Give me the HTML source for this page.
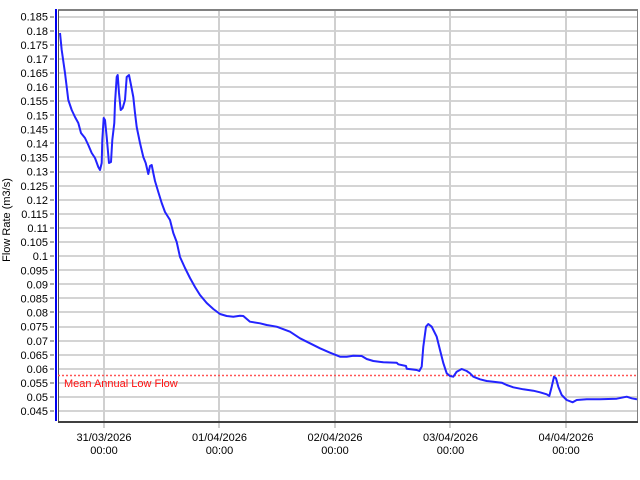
<!DOCTYPE html>
<html><head><meta charset="utf-8"><style>
html,body{margin:0;padding:0;background:#fff;}
#wrap{position:relative;width:640px;height:480px;overflow:hidden;background:#fff;}
svg{position:absolute;left:0;top:0;display:block;font-family:"Liberation Sans",Arial,sans-serif;}
</style></head><body>
<div id="wrap">
<svg width="640" height="480" viewBox="0 0 640 480" xmlns="http://www.w3.org/2000/svg" shape-rendering="crispEdges">
<g fill="#d4d4d4">
<rect x="59" y="16" width="578" height="2"/>
<rect x="59" y="30" width="578" height="2"/>
<rect x="59" y="44" width="578" height="2"/>
<rect x="59" y="58" width="578" height="2"/>
<rect x="59" y="72" width="578" height="2"/>
<rect x="59" y="86" width="578" height="2"/>
<rect x="59" y="100" width="578" height="2"/>
<rect x="59" y="114" width="578" height="2"/>
<rect x="59" y="128" width="578" height="2"/>
<rect x="59" y="142" width="578" height="2"/>
<rect x="59" y="156" width="578" height="2"/>
<rect x="59" y="171" width="578" height="2"/>
<rect x="59" y="185" width="578" height="2"/>
<rect x="59" y="199" width="578" height="2"/>
<rect x="59" y="213" width="578" height="2"/>
<rect x="59" y="227" width="578" height="2"/>
<rect x="59" y="241" width="578" height="2"/>
<rect x="59" y="255" width="578" height="2"/>
<rect x="59" y="269" width="578" height="2"/>
<rect x="59" y="283" width="578" height="2"/>
<rect x="59" y="297" width="578" height="2"/>
<rect x="59" y="311" width="578" height="2"/>
<rect x="59" y="326" width="578" height="2"/>
<rect x="59" y="340" width="578" height="2"/>
<rect x="59" y="354" width="578" height="2"/>
<rect x="59" y="368" width="578" height="2"/>
<rect x="59" y="382" width="578" height="2"/>
<rect x="59" y="396" width="578" height="2"/>
<rect x="59" y="410" width="578" height="2"/>
</g>
<g fill="#a8a8a8">
<rect x="50" y="16" width="4" height="2"/>
<rect x="50" y="30" width="4" height="2"/>
<rect x="50" y="44" width="4" height="2"/>
<rect x="50" y="58" width="4" height="2"/>
<rect x="50" y="72" width="4" height="2"/>
<rect x="50" y="86" width="4" height="2"/>
<rect x="50" y="100" width="4" height="2"/>
<rect x="50" y="114" width="4" height="2"/>
<rect x="50" y="128" width="4" height="2"/>
<rect x="50" y="142" width="4" height="2"/>
<rect x="50" y="156" width="4" height="2"/>
<rect x="50" y="171" width="4" height="2"/>
<rect x="50" y="185" width="4" height="2"/>
<rect x="50" y="199" width="4" height="2"/>
<rect x="50" y="213" width="4" height="2"/>
<rect x="50" y="227" width="4" height="2"/>
<rect x="50" y="241" width="4" height="2"/>
<rect x="50" y="255" width="4" height="2"/>
<rect x="50" y="269" width="4" height="2"/>
<rect x="50" y="283" width="4" height="2"/>
<rect x="50" y="297" width="4" height="2"/>
<rect x="50" y="311" width="4" height="2"/>
<rect x="50" y="326" width="4" height="2"/>
<rect x="50" y="340" width="4" height="2"/>
<rect x="50" y="354" width="4" height="2"/>
<rect x="50" y="368" width="4" height="2"/>
<rect x="50" y="382" width="4" height="2"/>
<rect x="50" y="396" width="4" height="2"/>
<rect x="50" y="410" width="4" height="2"/>
</g>
<g fill="#d0d0d0">
<rect x="103" y="10" width="2" height="418"/>
<rect x="218" y="10" width="2" height="418"/>
<rect x="334" y="10" width="2" height="418"/>
<rect x="449" y="10" width="2" height="418"/>
<rect x="565" y="10" width="2" height="418"/>
</g>
<rect x="58" y="9" width="580" height="2" fill="#808080"/>
<rect x="637" y="10" width="1" height="413" fill="#808080"/>
<rect x="58" y="10" width="1" height="413" fill="#505050"/>
<rect x="58" y="421" width="580" height="2" fill="#404040"/>
<rect x="55" y="9" width="2" height="412" fill="#0000ee"/>
<line x1="58" y1="375.5" x2="637" y2="375.5" stroke="#ff5555" stroke-width="1.5" stroke-dasharray="2,2" shape-rendering="auto"/>
<text x="64" y="387" font-size="11" fill="#ff1010">Mean Annual Low Flow</text>
<polyline fill="none" stroke="#2323ff" stroke-width="2" stroke-linejoin="round" shape-rendering="auto" points="60,33 61.7,50 65,73 68.3,100 71.7,110 75,117 78.3,123 81,133 85,138 88.3,145 91.7,153 95,158 98.3,167 100,170 101.7,163 102.3,140 103.7,118 105,120 106.7,137 109,163 111,162 112.3,140 114.3,123 115,103 116.7,77 117.7,75 119,93 120.7,110 122.7,108 125,100 126.7,77 129,75 131,85 133.3,97 135,113 136.7,127 140,143 143.3,157 145.7,163 148.3,174 150,166 151.7,165 153.3,173 155,181 158.3,192 161.7,203 165,212 170,220 173.3,233 176.7,242 180,257 185,268 190,278 195,287 200,295 206.7,303 213.3,309 220,314 226.7,316 233.3,316.7 240,315.7 243.3,316 250,321.7 260,323.3 266.7,325 276.7,326.7 290,331.7 300,338.3 310,343.3 320,348.3 330,352.7 340,356.7 346.7,356.7 353.3,355.7 361.7,356 366.7,359 373.3,361 383.3,362.3 396.7,362.7 398.3,364.3 406,366 406.7,368.7 416.7,370 419.3,371 421.7,366.7 423.3,346.7 426,326.7 428.3,324 431.7,326.7 436.7,336.7 440,350 443.3,363 446.7,373.3 450,376 453.3,376.7 456.7,371.7 461.7,369 466.7,371 470,373.3 473.3,376.7 480,379.3 486.7,381 493.3,381.7 501.7,382.7 506.7,385 513.3,387.3 523.3,389.3 533.3,390.7 540,392.3 546.7,394.3 549.3,396 551.7,386.7 554,376.7 556,378.3 558.3,386.7 561.7,395 566.7,400 572.7,402.3 576.7,400 586.7,399.3 600,399.3 616.7,398.7 626.7,396.7 631.7,398.3 637,399.3"/>
<text transform="translate(10,220) rotate(-90)" font-size="11" text-anchor="middle" fill="#000">Flow Rate (m3/s)</text>
<g font-size="11" fill="#000" text-anchor="middle">
<text x="104" y="441">31/03/2026</text><text x="104" y="454">00:00</text>
<text x="219.5" y="441">01/04/2026</text><text x="219.5" y="454">00:00</text>
<text x="335" y="441">02/04/2026</text><text x="335" y="454">00:00</text>
<text x="450.5" y="441">03/04/2026</text><text x="450.5" y="454">00:00</text>
<text x="566" y="441">04/04/2026</text><text x="566" y="454">00:00</text>
</g>
<g font-size="11" fill="#000" text-anchor="end">
<text x="48" y="20.7">0.185</text>
<text x="48" y="34.8">0.18</text>
<text x="48" y="48.9">0.175</text>
<text x="48" y="63">0.17</text>
<text x="48" y="77.1">0.165</text>
<text x="48" y="91.1">0.16</text>
<text x="48" y="105.2">0.155</text>
<text x="48" y="119.3">0.15</text>
<text x="48" y="133.4">0.145</text>
<text x="48" y="147.5">0.14</text>
<text x="48" y="161.6">0.135</text>
<text x="48" y="175.7">0.13</text>
<text x="48" y="189.8">0.125</text>
<text x="48" y="203.9">0.12</text>
<text x="48" y="218">0.115</text>
<text x="48" y="232">0.11</text>
<text x="48" y="246.1">0.105</text>
<text x="48" y="260.2">0.1</text>
<text x="48" y="274.3">0.095</text>
<text x="48" y="288.4">0.09</text>
<text x="48" y="302.5">0.085</text>
<text x="48" y="316.6">0.08</text>
<text x="48" y="330.7">0.075</text>
<text x="48" y="344.8">0.07</text>
<text x="48" y="358.9">0.065</text>
<text x="48" y="372.9">0.06</text>
<text x="48" y="387">0.055</text>
<text x="48" y="401.1">0.05</text>
<text x="48" y="415.2">0.045</text>
</g>
</svg>
</div>
</body></html>
